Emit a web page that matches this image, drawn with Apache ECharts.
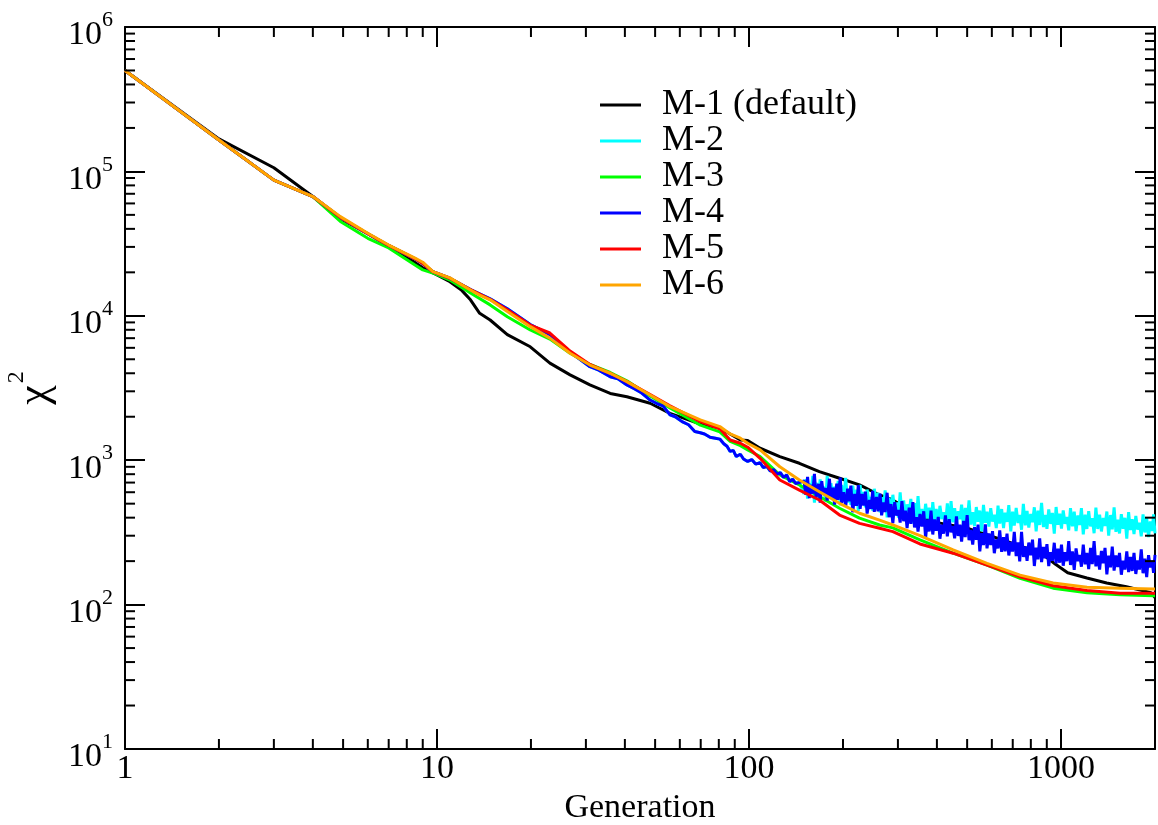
<!DOCTYPE html>
<html>
<head>
<meta charset="utf-8">
<script src="https://cdn.jsdelivr.net/npm/echarts@6/dist/echarts.min.js"></script>
<style>
html,body{margin:0;padding:0;background:#fff;}
#chart{width:1158px;height:825px;}
</style>
</head>
<body>
<div id="chart"></div>
<script>
// ---- data (generation, chi^2) ----
const seriesNames = ['M-1 (default)', 'M-2', 'M-3', 'M-4', 'M-5', 'M-6'];
const seriesColors = ['#000000', '#00ffff', '#00ff00', '#0000ff', '#ff0000', '#ffa500'];

const m1 = [[1,500000],[2,168000],[3,106000],[4,67000],[5,46000],[6,37000],[7,30500],[8,25500],[9,21500],[10,19200],[11,17200],[12,15000],[12.8,12900],[13.7,10400],[14.8,9350],[16.8,7400],[19.9,6100],[23,4700],[26.7,3900],[30.9,3320],[35.9,2900],[40.6,2750],[48.2,2480],[55.8,2110],[62,1950],[69.8,1780],[80.6,1670],[93.8,1380],[99,1370],[108.5,1210],[125.5,1060],[145,952],[168,833],[195,750],[226,674],[262,574],[289,530],[330,444],[389,374],[497,340],[635,285],[800,240],[900,212],[960,190],[1050,166],[1210,153],[1400,141],[1620,133],[1940,121],[2000,112]];

// M-2 and M-4 coincide until ~150 generations
const m24Early = [[1,500000],[2,165000],[3,87000],[4,67000],[4.9,48000],[6,37000],[7,30700],[8.5,24800],[9,23000],[9.7,20200],[11,18200],[12.8,15200],[14.8,13100],[16.8,11200],[19.9,8700],[23,7400],[26.7,5600],[30.9,4440],[33,4200],[35.9,3780],[38,3660],[40.6,3320],[43,3120],[45,2950],[48.2,2610],[51,2450],[53,2380],[55.8,2060],[58,2000],[61,1850],[64,1760],[67,1580],[69.8,1550],[72,1520],[75,1440],[78,1420],[80.6,1400],[83,1300],[85,1250],[87,1150],[89,1170],[91,1060],[93.8,1100],[96,1020],[99,980],[102,1010],[105,940],[108.5,960],[111,890],[114,905],[117,840],[120,860],[123,800],[126,820],[129,760],[132,790],[135,710],[138,740],[141,690],[145,700]];

const noisyGens = [150,152,154,156,158,160,162,164,167,169,171,173,176,178,181,183,186,188,191,193,196,198,201,204,207,209,212,215,218,221,224,227,230,233,236,239,243,246,249,252,256,259,263,266,270,273,277,281,285,289,293,297,301,305,309,313,317,321,326,330,335,339,344,348,353,358,363,368,373,378,383,388,393,398,404,409,415,420,426,432,438,444,450,456,462,468,474,480,487,493,500,507,514,521,528,535,542,549,557,564,572,579,587,595,603,611,620,628,636,645,654,662,671,680,690,699,708,718,728,737,747,757,768,778,788,799,810,821,832,843,854,866,878,889,901,913,926,938,951,964,977,990,1003,1016,1030,1044,1058,1072,1087,1102,1117,1132,1147,1162,1178,1194,1210,1226,1243,1259,1276,1293,1311,1329,1347,1365,1383,1402,1421,1440,1459,1479,1499,1519,1539,1560,1581,1602,1624,1646,1668,1690,1713,1736,1760,1783,1807,1831,1856,1881,1907,1932,1958,1979,2000];

const m2Noisy = [585,739,542,693,595,778,509,697,556,737,578,657,518,778,552,692,529,655,572,719,486,673,533,753,509,617,491,666,524,623,444,675,505,602,471,626,502,557,447,634,473,595,435,555,474,617,402,550,436,576,450,510,400,598,422,526,401,494,431,540,365,504,399,563,380,460,367,499,394,469,336,513,385,460,362,483,391,436,352,502,347,521,371,466,358,444,390,493,335,467,372,527,358,436,349,474,375,448,321,490,369,440,347,465,376,420,339,485,364,459,339,434,374,489,321,440,352,467,367,418,330,498,354,446,342,425,373,472,322,447,356,506,344,418,335,456,362,431,310,474,357,426,336,449,363,405,327,466,348,440,323,415,356,466,306,419,334,443,348,396,312,469,334,419,321,398,350,441,300,417,332,471,319,388,311,423,335,399,286,437,328,391,308,411,331,369,297,422,316,399,293,376,323,422,311];

const m4Noisy = [720,576,766,546,677,586,804,551,686,509,717,583,641,526,744,542,645,493,687,532,758,507,600,477,635,520,666,436,584,483,672,460,583,485,606,427,530,460,614,439,556,443,586,415,509,437,595,403,497,366,512,414,453,370,521,378,447,339,470,362,512,342,403,320,425,347,443,290,389,321,447,306,389,324,405,286,357,310,415,297,390,317,350,288,409,299,358,273,380,293,417,279,329,260,344,281,358,234,313,258,359,245,311,259,323,227,282,245,326,232,293,234,310,219,271,233,319,217,270,199,319,214,253,201,269,220,282,185,248,206,287,197,251,209,262,185,231,201,268,193,244,195,260,186,231,200,275,188,234,174,245,200,221,183,260,190,228,176,247,191,275,184,219,175,235,193,247,162,218,181,252,172,219,182,228,161,201,175,234,168,214,171,228,163,202,175,241,165,208,155,220,181,201,166,221];

const m3 = [[1,500000],[2,165000],[3,87000],[4,67000],[4.9,45000],[6,34400],[7,29500],[8.5,22500],[9,20800],[9.7,19800],[11,17700],[12.8,14400],[14.8,11900],[16.8,9860],[19.9,7980],[23,6900],[26.7,5500],[30.9,4600],[35.9,4050],[40.6,3550],[48.2,2780],[55.8,2300],[69.8,1750],[80.6,1570],[87,1350],[93.8,1260],[99,1180],[108.5,1060],[125.5,791],[145,674],[168,560],[195,465],[226,397],[262,356],[289,340],[353,281],[451,227],[579,188],[739,152],[943,130],[1211,121],[1546,117],[1972,115],[2000,115]];

const m5 = [[1,500000],[2,165000],[3,87000],[4,67000],[4.9,48000],[6,37000],[7,30700],[8.5,24800],[9,23000],[9.7,20200],[11,18200],[12.8,15200],[14.8,13000],[16.8,11000],[19.9,8630],[23,7600],[26.7,5700],[30.9,4600],[35.9,4000],[40.6,3500],[48.2,2850],[55.8,2380],[69.8,1850],[80.6,1650],[87,1380],[93.8,1310],[99,1230],[108.5,1030],[125.5,729],[145,621],[168,530],[195,417],[226,365],[262,338],[289,320],[353,263],[451,227],[579,188],[739,156],[943,135],[1211,125],[1546,120],[1972,120],[2000,120]];

const m6 = [[1,500000],[2,165000],[3,87000],[4,67000],[4.9,48600],[6,37300],[7,30900],[8.5,25100],[9,23500],[9.7,20200],[11,18300],[12.8,15100],[13.7,13900],[14.8,12900],[16.8,10700],[19.9,8410],[23,7000],[26.7,5500],[30.9,4560],[35.9,4000],[40.6,3500],[48.2,2830],[55.8,2350],[69.8,1900],[80.6,1710],[87,1520],[93.8,1420],[99,1310],[108.5,1180],[125.5,901],[145,729],[168,605],[195,503],[226,429],[262,385],[289,356],[353,300],[451,239],[579,193],[739,160],[943,141],[1211,132],[1546,130],[1972,128],[2000,128]];

// tick values
const xMajorLabels = [1, 10, 100, 1000];
const xMinor = [2,3,4,5,6,7,8,9,20,30,40,50,60,70,80,90,200,300,400,500,600,700,800,900];
const yMinor = [20,30,40,50,60,70,80,90,200,300,400,500,600,700,800,900,2000,3000,4000,5000,6000,7000,8000,9000,20000,30000,40000,50000,60000,70000,80000,90000,200000,300000,400000,500000,600000,700000,800000,900000];
const X_MIN = 1, X_MAX = 2000, Y_MIN = 10, Y_MAX = 1000000;

// ---- build ----
const FONT = "'Liberation Serif', 'Times New Roman', serif";
function zip(gens, vals) { const out = []; for (let i = 0; i < Math.min(gens.length, vals.length); i++) out.push([gens[i], vals[i]]); return out; }
const m2 = m24Early.concat(zip(noisyGens, m2Noisy));
const m4 = m24Early.concat(zip(noisyGens, m4Noisy));
const allData = [m1, m2, m3, m4, m5, m6];

const chart = echarts.init(document.getElementById('chart'), null, {renderer: 'canvas'});

const axisLineStyle = {lineStyle: {color: '#000', width: 2}};
const majorTick = {show: true, inside: true, length: 20, lineStyle: {color: '#000', width: 2}};

const minorData = xMinor.map(v => [v, Y_MIN, 0]).concat(yMinor.map(v => [X_MIN, v, 1]));

const lineSeries = allData.map((d, i) => ({
  name: seriesNames[i],
  type: 'line',
  data: d,
  showSymbol: false,
  symbol: 'none',
  color: seriesColors[i],
  lineStyle: {color: seriesColors[i], width: 3},
  z: 2,
  silent: true,
  animation: false
}));

const option = {
  backgroundColor: '#fff',
  animation: false,
  grid: {left: 125, right: 3, top: 27, bottom: 76, containLabel: false, outerBoundsMode: 'none'},
  legend: {
    orient: 'vertical', left: 600, top: 87, padding: 0,
    icon: 'rect', itemWidth: 41, itemHeight: 3, itemGap: 0,
    data: seriesNames,
    selectedMode: false,
    textStyle: {fontFamily: FONT, fontSize: 36, color: '#000', lineHeight: 36, padding: [0, 0, 0, 16]}
  },
  xAxis: [{
    type: 'log', logBase: 10, min: X_MIN, max: X_MAX, position: 'bottom',
    name: 'Generation', nameLocation: 'middle', nameGap: 33,
    nameTextStyle: {fontFamily: FONT, fontSize: 34, color: '#000'},
    axisLine: axisLineStyle, axisTick: majorTick, splitLine: {show: false},
    axisLabel: {
      fontFamily: FONT, fontSize: 34, color: '#000', margin: 3,
      formatter: v => { const r = Math.round(v); return xMajorLabels.indexOf(r) >= 0 && Math.abs(v - r) < 1e-6 * r ? String(r) : ''; }
    }
  }, {
    type: 'log', logBase: 10, min: X_MIN, max: X_MAX, position: 'top',
    axisLine: axisLineStyle, axisTick: majorTick, axisLabel: {show: false}, splitLine: {show: false}
  }],
  yAxis: [{
    type: 'log', logBase: 10, min: Y_MIN, max: Y_MAX, position: 'left',
    name: '{c|\u03c7}{s|2}', nameLocation: 'middle', nameGap: 68, nameRotate: 90,
    nameTextStyle: {
      rich: {
        c: {fontFamily: FONT, fontSize: 44, color: '#000', lineHeight: 44, padding: [8, 0, 0, 0]},
        s: {fontFamily: FONT, fontSize: 24, color: '#000', lineHeight: 24, padding: [0, 0, 28, 2]}
      }
    },
    axisLine: axisLineStyle, axisTick: majorTick, splitLine: {show: false},
    axisLabel: {
      margin: 12,
      padding: [8, 0, 0, 0],
      formatter: v => '{b|10}{s|' + Math.round(Math.log10(v)) + '}',
      rich: {
        b: {fontFamily: FONT, fontSize: 34, color: '#000', lineHeight: 34, padding: [9, 0, 0, 0]},
        s: {fontFamily: FONT, fontSize: 22, color: '#000', lineHeight: 22, padding: [0, 0, 21, 0]}
      }
    }
  }, {
    type: 'log', logBase: 10, min: Y_MIN, max: Y_MAX, position: 'right',
    axisLine: axisLineStyle, axisTick: majorTick, axisLabel: {show: false}, splitLine: {show: false}
  }],
  series: lineSeries.concat([{
    type: 'custom',
    name: 'minorTicks',
    silent: true,
    clip: false,
    z: 10,
    xAxisIndex: 0, yAxisIndex: 0,
    data: minorData,
    encode: {x: 0, y: 1},
    renderItem: function (params, api) {
      const t = api.value(2);
      const st = {stroke: '#000', lineWidth: 2};
      if (t === 0) {
        const v = api.value(0);
        const b = api.coord([v, Y_MIN]);
        const tp = api.coord([v, Y_MAX]);
        return {type: 'group', children: [
          {type: 'line', shape: {x1: b[0], y1: b[1], x2: b[0], y2: b[1] - 10}, style: st},
          {type: 'line', shape: {x1: tp[0], y1: tp[1], x2: tp[0], y2: tp[1] + 10}, style: st}
        ]};
      } else {
        const v = api.value(1);
        const l = api.coord([X_MIN, v]);
        const r = api.coord([X_MAX, v]);
        return {type: 'group', children: [
          {type: 'line', shape: {x1: l[0], y1: l[1], x2: l[0] + 10, y2: l[1]}, style: st},
          {type: 'line', shape: {x1: r[0], y1: r[1], x2: r[0] - 10, y2: r[1]}, style: st}
        ]};
      }
    }
  }])
};
chart.setOption(option);
</script>
</body>
</html>
